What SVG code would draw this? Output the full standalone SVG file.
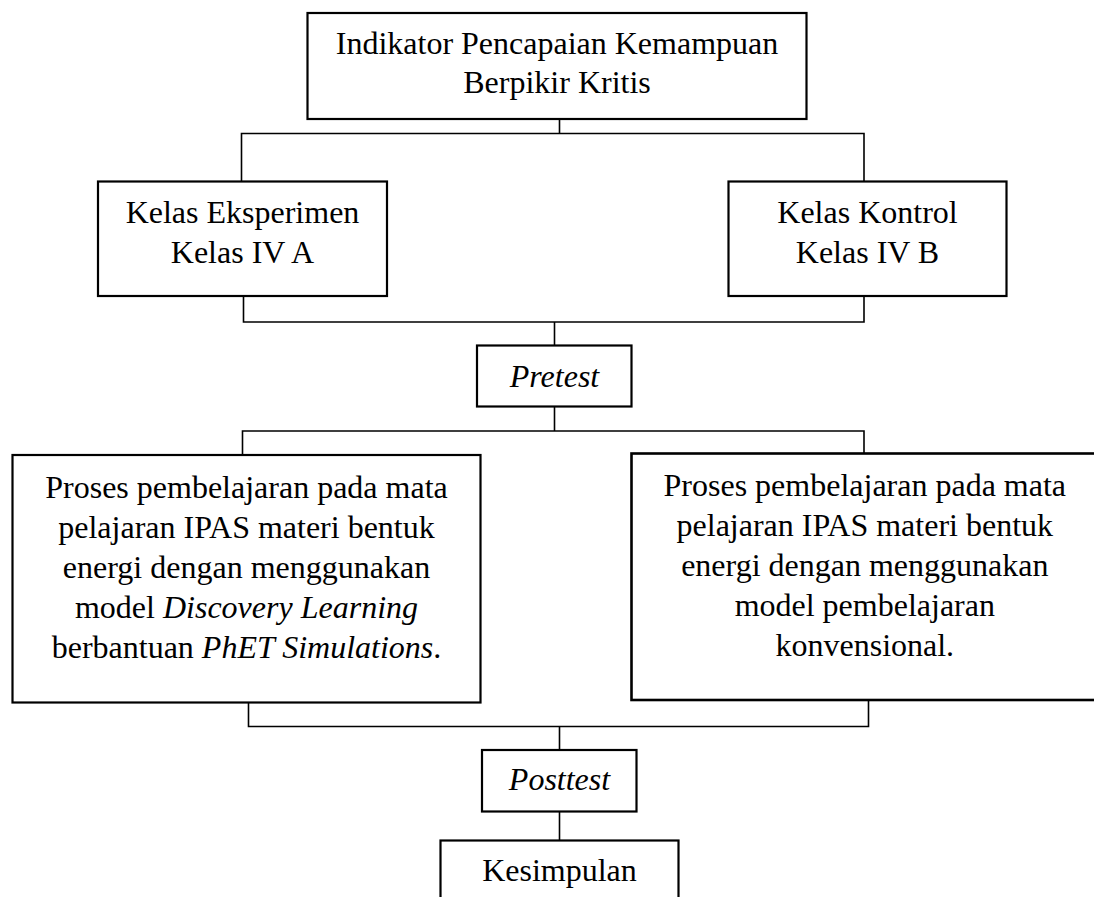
<svg xmlns="http://www.w3.org/2000/svg" width="1094" height="897" viewBox="0 0 1094 897">
<style>
.box{fill:#fff;stroke:#000;stroke-width:2.2}
.thick{stroke-width:2.6}
.conn{fill:none;stroke:#000;stroke-width:1.6}
text{font-family:"Liberation Serif","Times New Roman",serif;font-size:32px;fill:#000;text-anchor:middle}
.it{font-style:italic}
</style>
<rect width="1094" height="897" fill="#fff"/>
<g id="connectors">
<path class="conn" d="M559.5 119 V133.5 M241.5 181.5 V133.5 H864 V181.5"/>
<path class="conn" d="M243.5 296 V322 H864 V296 M554.5 322 V345.5"/>
<path class="conn" d="M554.5 406.5 V431 M242.5 455 V431 H864 V453.5"/>
<path class="conn" d="M248.5 702.5 V726.5 H868.5 V700 M559.5 726.5 V750"/>
<path class="conn" d="M559.5 811.5 V840.5"/>
</g>
<g id="indikator">
<rect class="box" x="307.5" y="13" width="499" height="106"/>
<text x="557" y="54">Indikator Pencapaian Kemampuan</text>
<text x="557" y="93">Berpikir Kritis</text>
</g>
<g id="eksperimen">
<rect class="box" x="98" y="181.5" width="289" height="114.5"/>
<text x="242.5" y="222.7">Kelas Eksperimen</text>
<text x="242.5" y="262.7">Kelas IV A</text>
</g>
<g id="kontrol">
<rect class="box" x="728.5" y="181.5" width="278" height="114.5"/>
<text x="867.5" y="222.7">Kelas Kontrol</text>
<text x="867.5" y="262.7">Kelas IV B</text>
</g>
<g id="pretest">
<rect class="box" x="477" y="345.5" width="154.5" height="61"/>
<text class="it" x="554.5" y="386.5">Pretest</text>
</g>
<g id="proses-eksperimen">
<rect class="box" x="12.5" y="455" width="468" height="247.5"/>
<text x="246.5" y="498.3">Proses pembelajaran pada mata</text>
<text x="246.5" y="538.3">pelajaran IPAS materi bentuk</text>
<text x="246.5" y="578.3">energi dengan menggunakan</text>
<text x="246.5" y="618">model <tspan class="it">Discovery Learning</tspan></text>
<text x="246.5" y="657.5">berbantuan <tspan class="it">PhET Simulations</tspan>.</text>
</g>
<g id="proses-kontrol">
<rect class="box thick" x="631.5" y="453.5" width="470" height="246.5"/>
<text x="864.8" y="495.7">Proses pembelajaran pada mata</text>
<text x="864.8" y="536">pelajaran IPAS materi bentuk</text>
<text x="864.8" y="576">energi dengan menggunakan</text>
<text x="864.8" y="616">model pembelajaran</text>
<text x="864.8" y="656">konvensional.</text>
</g>
<g id="posttest">
<rect class="box" x="482" y="750" width="154.5" height="61.5"/>
<text class="it" x="559.5" y="790">Posttest</text>
</g>
<g id="kesimpulan">
<rect class="box" x="440.5" y="840.5" width="238" height="80"/>
<text x="559.5" y="881">Kesimpulan</text>
</g>
</svg>
